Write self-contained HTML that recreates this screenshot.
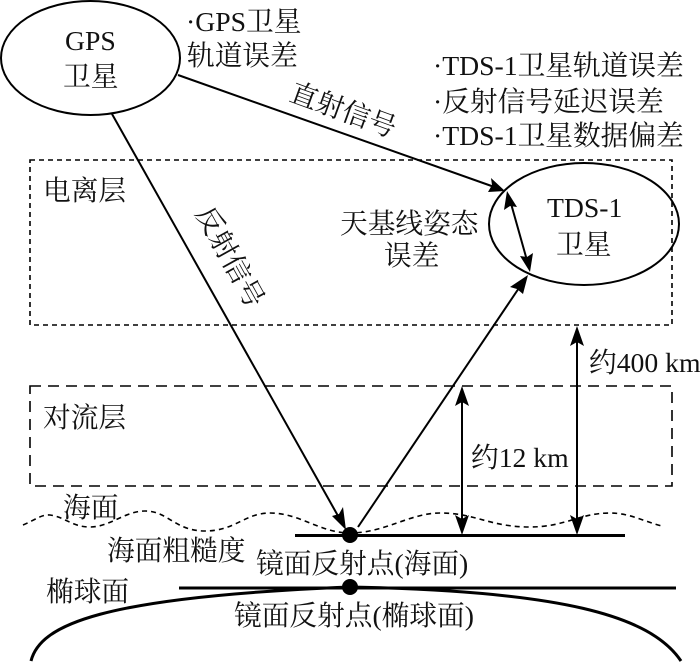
<!DOCTYPE html>
<html><head><meta charset="utf-8"><style>
html,body{margin:0;padding:0;background:#fff;width:700px;height:662px;overflow:hidden}
svg{display:block}
text{font-family:"Liberation Serif","Noto Serif CJK SC",serif;font-size:27.7px;fill:#111}
.l{fill:none;stroke:#000;stroke-width:2}
.a{fill:#000;stroke:none}
</style></head><body>
<svg width="700" height="662" viewBox="0 0 700 662" xmlns="http://www.w3.org/2000/svg">
<rect x="30" y="160" width="642" height="165" fill="none" stroke="#000" stroke-width="1.6" stroke-dasharray="5 4"/>
<rect x="30" y="386" width="642" height="100" fill="none" stroke="#000" stroke-width="1.6" stroke-dasharray="11 7"/>
<ellipse cx="90.5" cy="58" rx="89.5" ry="57" class="l"/>
<ellipse cx="584" cy="224" rx="95" ry="61" class="l"/>
<path d="M178 75L500 189" class="l"/>
<path d="M505 191L488 192L492 185L491 178Z" class="a"/>
<path d="M112 114L342 523" class="l"/>
<path d="M346 530L332 516L339 514L343 507Z" class="a"/>
<path d="M358 527L523 282" class="l"/>
<path d="M528 275L523 294L517 289L510 287Z" class="a"/>
<path d="M510 200L528 264" class="l"/>
<path d="M507 191L517 207L510 206L504 210Z M530 272L520 256L527 257L533 253Z" class="a"/>
<path d="M462 394V527M577 334V527" class="l"/>
<path d="M462 386L469 406L462 402L455 406Z M577 326L584 346L577 342L570 346Z M462 535L455 515L462 519L469 515Z M577 535L570 515L577 519L584 515Z" class="a"/>
<path d="M23 525C35 520 42 514 50 515C65 517 72 527 90 527C110 527 125 511 145 511C168 511 175 531 205 531C235 531 245 513 270 513C300 513 320 533 350 533C385 533 410 513 440 513C475 513 490 527 530 527C565 527 580 513 610 513C630 513 645 522 662 526" fill="none" stroke="#000" stroke-width="1.6" stroke-dasharray="5 4"/>
<path d="M295 535.5H625" fill="none" stroke="#000" stroke-width="3"/>
<path d="M179 588H676" fill="none" stroke="#000" stroke-width="3"/>
<path d="M31 661C40 625 100 597 350 587C560 591 650 615 681 661" fill="none" stroke="#000" stroke-width="3"/>
<circle cx="350" cy="535" r="8"/>
<circle cx="350" cy="587" r="8"/>

<text x="65" y="50">GPS</text>
<text x="63" y="86">卫星</text>
<text x="186" y="31">·GPS卫星</text>
<text x="187" y="65">轨道误差</text>
<text x="433" y="75">·TDS-1卫星轨道误差</text>
<text x="433" y="111">·反射信号延迟误差</text>
<text x="433" y="145">·TDS-1卫星数据偏差</text>
<text x="43" y="200">电离层</text>
<text x="43" y="427">对流层</text>
<text x="340" y="233">天基线姿态</text>
<text x="384" y="265">误差</text>
<text x="547" y="217">TDS-1</text>
<text x="556" y="254">卫星</text>
<text transform="translate(288 100) rotate(20)">直射信号</text>
<text transform="translate(195 213) rotate(61)">反射信号</text>
<text x="589" y="372">约400 km</text>
<text x="471" y="467">约12 km</text>
<text x="63" y="517">海面</text>
<text x="107" y="560">海面粗糙度</text>
<text x="256" y="573">镜面反射点(海面)</text>
<text x="46" y="601">椭球面</text>
<text x="234" y="625">镜面反射点(椭球面)</text>
</svg>
</body></html>
